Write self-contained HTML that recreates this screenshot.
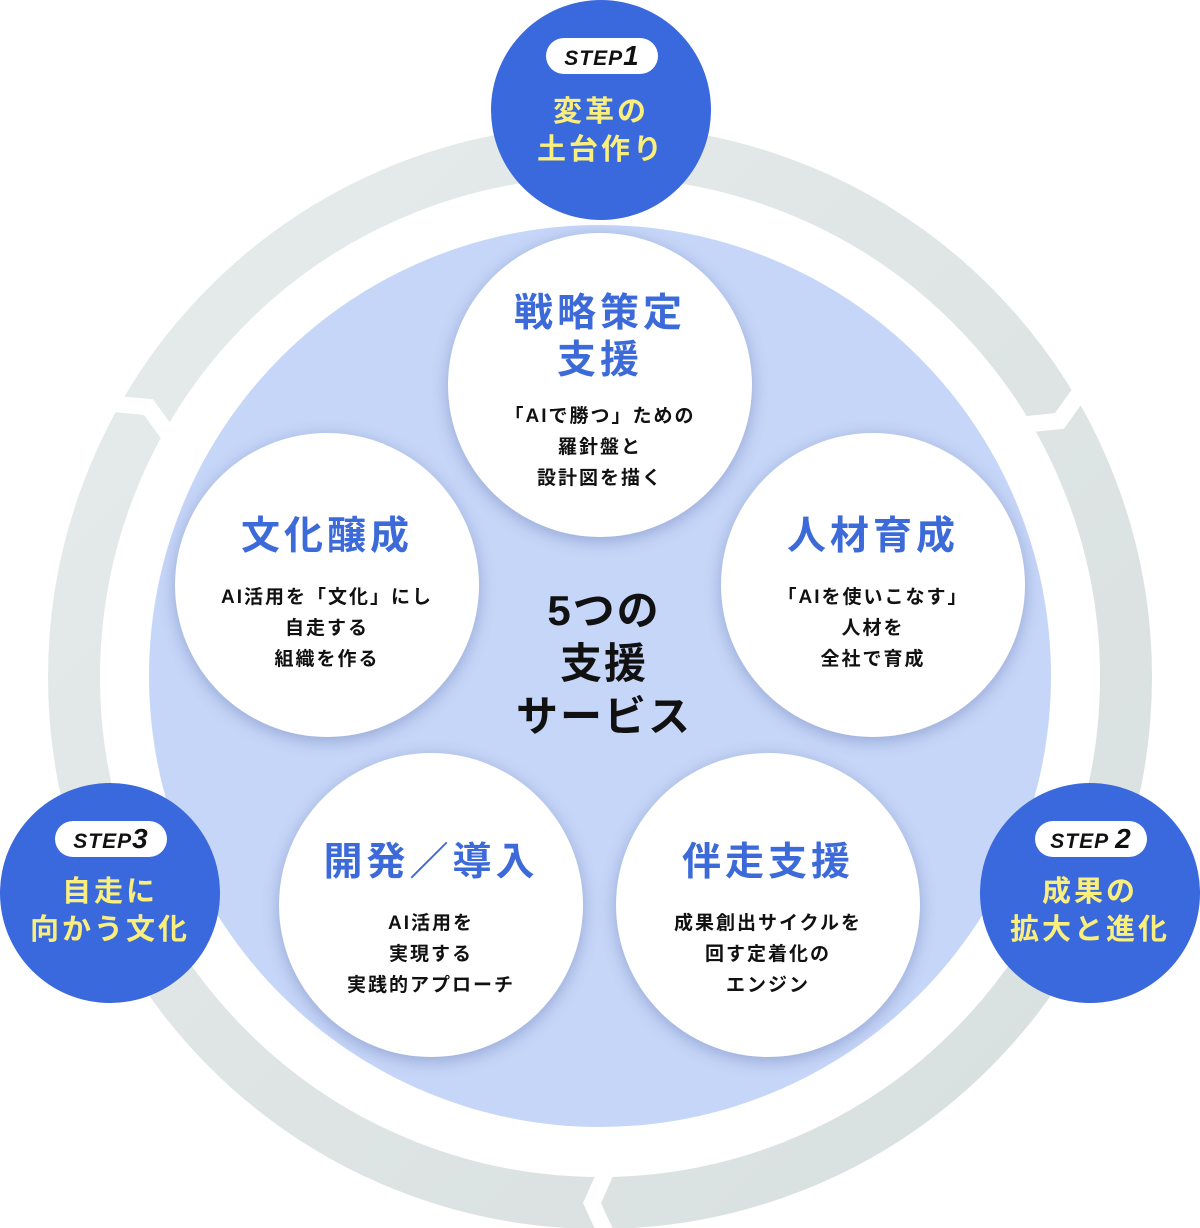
<!DOCTYPE html>
<html><head><meta charset="utf-8"><style>
html,body{margin:0;padding:0;background:#fff;}
body{width:1200px;height:1228px;position:relative;overflow:hidden;font-family:"Liberation Sans","Noto Sans CJK JP",sans-serif;}
.c{position:absolute;border-radius:50%;background:#fff;box-shadow:0 4px 16px rgba(60,80,150,.35);}
.t{position:absolute;left:0;right:0;text-align:center;font-weight:bold;}
.ti{color:#3c6ad9;font-size:39px;line-height:47px;letter-spacing:4px;}
.su{color:#111;font-size:19px;line-height:31px;letter-spacing:2px;}
.s{position:absolute;width:220px;height:220px;border-radius:50%;background:#3a68dd;}
.pill{position:absolute;left:55px;top:38px;width:112px;height:36px;border-radius:18px;background:#fff;text-align:center;font:italic bold 21px/36px "Liberation Sans",sans-serif;color:#111;letter-spacing:1px;}
.pill b{font-size:28px;}
.y{position:absolute;left:0;right:0;top:90px;text-align:center;color:#fbef7b;font-weight:bold;font-size:29px;line-height:38px;letter-spacing:3px;}
</style></head><body>
<svg width="1200" height="1228" style="position:absolute;left:0;top:0">
<defs><linearGradient id="g" x1="0" y1="0" x2="1" y2="1"><stop offset="0" stop-color="#e6ebeb"/><stop offset="1" stop-color="#d8dfdf"/></linearGradient></defs>
<circle cx="600" cy="677" r="526" fill="none" stroke="url(#g)" stroke-width="52"/>
<g fill="#fff">
<polygon points="600,1165 618,1165 601,1203 618,1240 600,1240 583,1203"/>
<polygon points="600,1165 618,1165 601,1203 618,1240 600,1240 583,1203" transform="rotate(120 600 677)"/>
<polygon points="600,1165 618,1165 601,1203 618,1240 600,1240 583,1203" transform="rotate(240 600 677)"/>
</g>
<circle cx="600" cy="676" r="451" fill="#c6d6f8"/>
</svg>
<div class="c" style="left:448px;top:233px;width:304px;height:304px">
<div class="t ti" style="top:57px">戦略策定<br>支援</div>
<div class="t su" style="top:168px">「AIで勝つ」ための<br>羅針盤と<br>設計図を描く</div></div>
<div class="c" style="left:175px;top:433px;width:304px;height:304px">
<div class="t ti" style="top:80px">文化醸成</div>
<div class="t su" style="top:149px">AI活用を「文化」にし<br>自走する<br>組織を作る</div></div>
<div class="c" style="left:721px;top:433px;width:304px;height:304px">
<div class="t ti" style="top:80px">人材育成</div>
<div class="t su" style="top:149px">「AIを使いこなす」<br>人材を<br>全社で育成</div></div>
<div class="c" style="left:279px;top:753px;width:304px;height:304px">
<div class="t ti" style="top:86px">開発／導入</div>
<div class="t su" style="top:155px">AI活用を<br>実現する<br>実践的アプローチ</div></div>
<div class="c" style="left:616px;top:753px;width:304px;height:304px">
<div class="t ti" style="top:86px">伴走支援</div>
<div class="t su" style="top:155px">成果創出サイクルを<br>回す定着化の<br>エンジン</div></div>
<div class="t" style="top:584px;font-size:42px;line-height:53px;color:#111;letter-spacing:2px;left:0;width:1208px">5つの<br>支援<br>サービス</div>
<div class="s" style="left:491px;top:0px"><div class="pill">STEP<b>1</b></div><div class="y" style="top:93px">変革の<br>土台作り</div></div>
<div class="s" style="left:980px;top:783px"><div class="pill">STEP <b>2</b></div><div class="y">成果の<br>拡大と進化</div></div>
<div class="s" style="left:0px;top:783px"><div class="pill">STEP<b>3</b></div><div class="y">自走に<br>向かう文化</div></div>
</body></html>
